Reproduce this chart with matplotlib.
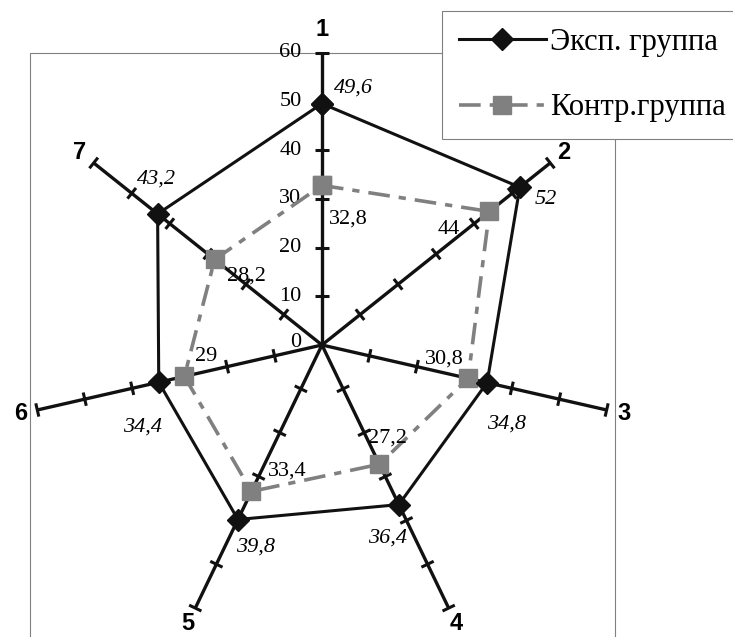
import numpy as np
import matplotlib
matplotlib.use('Agg')
import matplotlib.pyplot as plt
from matplotlib.patches import Rectangle

# данные лепестковой диаграммы
axis_names = ['1', '2', '3', '4', '5', '6', '7']
exp_group = [49.6, 52, 34.8, 36.4, 39.8, 34.4, 43.2]
ctrl_group = [32.8, 44, 30.8, 27.2, 33.4, 29, 28.2]
scale_ticks = [0, 10, 20, 30, 40, 50, 60]
series_names = ['Эксп. группа', 'Контр.группа']

# смещения подписей значений (в точках)
exp_offsets = [(23, 11), (19, -9), (14, -30), (-8, -24), (13, -20), (-12, -32), (-1, 25)]
ctrl_offsets = [(19, -24), (-29, -13), (-17, 14), (6, 19), (26, 15), (16, 14), (23, -12)]

serif = 'Liberation Serif'
r_max = scale_ticks[-1]
n = len(axis_names)
theta = np.pi / 2 - 2 * np.pi * np.arange(n) / n
ux, uy = np.cos(theta), np.sin(theta)

fig = plt.figure(figsize=(7.33, 6.37), dpi=100)
# рамка области построения
fig.add_artist(Rectangle((30 / 733, -0.05), 585 / 733, 0.05 + 1 - 53 / 637,
                         transform=fig.transFigure, facecolor='none',
                         edgecolor='#808080', lw=0.8, zorder=0))
ax = fig.add_axes([0.0409, 0.0, 0.7967, 0.9168])
ax.set_xlim(-r_max, r_max)
ax.set_ylim(-r_max, r_max)
ax.axis('off')

# оси и засечки
tick_half = 1.4
for k in range(n):
    ax.plot([0, r_max * ux[k]], [0, r_max * uy[k]], color='#111111', lw=2.4,
            clip_on=False, zorder=2, solid_capstyle='butt')
    for t in scale_ticks[1:]:
        cx, cy = t * ux[k], t * uy[k]
        px, py = -uy[k] * tick_half, ux[k] * tick_half
        ax.plot([cx - px, cx + px], [cy - py, cy + py], color='#111111', lw=2.2,
                clip_on=False, zorder=2, solid_capstyle='butt')
    ax.text(63.6 * ux[k], 63.6 * uy[k] + (1.2 if k == 0 else 0), axis_names[k],
            ha='center', va='center', fontsize=17, fontweight='bold',
            family='Liberation Sans', clip_on=False)

for t in scale_ticks:
    ax.text(-4.2, t + (0.6 if t == 0 else 0), str(t), ha='right', va='center',
            fontsize=16, family=serif)

# ряды
ex = np.append(np.array(exp_group) * ux, exp_group[0] * ux[0])
ey = np.append(np.array(exp_group) * uy, exp_group[0] * uy[0])
cx_ = np.append(np.array(ctrl_group) * ux, ctrl_group[0] * ux[0])
cy_ = np.append(np.array(ctrl_group) * uy, ctrl_group[0] * uy[0])

l2, = ax.plot(cx_, cy_, color='#808080', lw=2.6, linestyle=(0, (6, 2.5, 2, 2.5)),
              marker='s', markersize=13, markerfacecolor='#808080',
              markeredgecolor='#808080', clip_on=False, zorder=3,
              label=series_names[1])
l1, = ax.plot(ex, ey, color='#111111', lw=2.2, marker='D', markersize=11,
              markerfacecolor='#111111', markeredgecolor='#111111',
              clip_on=False, zorder=4, label=series_names[0])

for k in range(n):
    ax.annotate(str(exp_group[k]).replace('.', ','), (exp_group[k] * ux[k], exp_group[k] * uy[k]),
                xytext=exp_offsets[k], textcoords='offset points', ha='center', va='center',
                fontsize=16, fontstyle='italic', family=serif, zorder=6)
    ax.annotate(str(ctrl_group[k]).replace('.', ','), (ctrl_group[k] * ux[k], ctrl_group[k] * uy[k]),
                xytext=ctrl_offsets[k], textcoords='offset points', ha='center', va='center',
                fontsize=16, family=serif, zorder=6)

leg = fig.legend(handles=[l1, l2], loc='upper left', bbox_to_anchor=(442 / 733, 1 - 11 / 637),
                 borderaxespad=0, fancybox=False, shadow=False, framealpha=1,
                 edgecolor='#808080', prop={'family': serif, 'size': 22},
                 handlelength=2.85, handletextpad=0.15, labelspacing=1.2,
                 borderpad=0.55, markerscale=1.0)
leg.get_frame().set_linewidth(0.8)
leg.set_zorder(10)

plt.savefig('out.png', dpi=100)
